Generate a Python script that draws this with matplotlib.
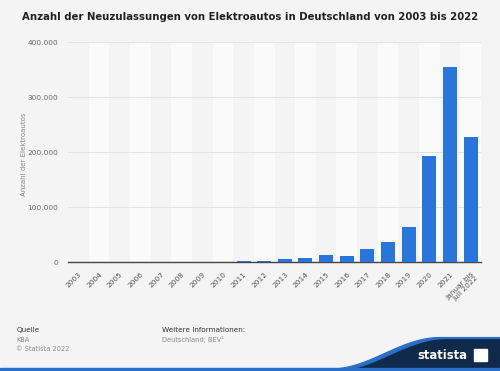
import matplotlib.pyplot as plt
import matplotlib.patches as patches
import matplotlib.ticker as mticker
import numpy as np

# Daten
jahre = ['2003', '2004', '2005', '2006', '2007', '2008', '2009', '2010', '2011', '2012',
         '2013', '2014', '2015', '2016', '2017', '2018', '2019', '2020', '2021',
         'Januar bis\nJuli 2022']
neuzulassungen = [61, 61, 47, 19, 8, 36, 162, 541, 2154, 2956,
                  6051, 8522, 12363, 11410, 25056, 36062, 63281, 194163, 355961, 227000]
y_ticks = [0, 100000, 200000, 300000, 400000]

bg = '#f4f4f4'
fig = plt.figure(figsize=(5, 3.71), dpi=100, facecolor=bg)
ax = fig.add_axes([0.136, 0.293, 0.826, 0.593], facecolor=bg)

x = np.arange(len(jahre))
# helle Streifen hinter jeder zweiten Kategorie
for i in x[1::2]:
    ax.axvspan(i - 0.5, i + 0.5, color='#fafafa', zorder=0, lw=0)

ax.bar(x, neuzulassungen, width=0.68, color='#2875dc', zorder=3)

ax.set_xlim(-0.5, len(jahre) - 0.5)
ax.set_ylim(0, 400000)
ax.set_yticks(y_ticks)
ax.yaxis.set_major_formatter(mticker.FuncFormatter(lambda v, p: f'{int(v):,}'.replace(',', '.')))
ax.grid(axis='y', color='#e2e2e2', lw=0.7, zorder=1)
ax.set_axisbelow(True)

ax.set_xticks(x)
ax.set_xticklabels(jahre, rotation=45, ha='right', rotation_mode='anchor',
                   fontsize=5.3, color='#555555', linespacing=1.0)
ax.tick_params(axis='y', length=0, labelsize=5.3, labelcolor='#666666', pad=7)
ax.tick_params(axis='x', length=0, pad=6)

for s in ['top', 'right', 'left']:
    ax.spines[s].set_visible(False)
ax.spines['bottom'].set_color('#444444')
ax.spines['bottom'].set_linewidth(1.0)

ax.set_ylabel('Anzahl der Elektroautos', fontsize=5.0, color='#888888')
ax.yaxis.set_label_coords(-0.1, 0.49)

fig.text(0.5, 0.955, 'Anzahl der Neuzulassungen von Elektroautos in Deutschland von 2003 bis 2022',
         ha='center', va='center', fontsize=7.3, fontweight='bold', color='#222222')

# Fußzeile
fig.text(0.033, 0.105, 'Quelle', fontsize=5.2, color='#333333')
fig.text(0.033, 0.079, 'KBA', fontsize=4.8, color='#888888')
fig.text(0.033, 0.055, '© Statista 2022', fontsize=4.8, color='#888888')
fig.text(0.324, 0.105, 'Weitere Informationen:', fontsize=5.2, color='#333333')
fig.text(0.324, 0.079, 'Deutschland; BEV¹', fontsize=4.8, color='#888888')

# Logo
t = np.linspace(0, 1, 60)
kx = 0.66 + 0.22 * t
ky = 0.005 + 0.085 * (1 - np.cos(np.pi * t)) / 2
top = list(zip(kx, ky)) + [(1.0, 0.09), (1.0, 0.0), (0.66, 0.0)]
fig.patches.append(patches.Polygon(top, closed=True, transform=fig.transFigure,
                                   color='#2a6fc9', zorder=5))
inner = list(zip(kx + 0.012, ky - 0.006)) + [(1.0, 0.084), (1.0, 0.0), (0.66, 0.0)]
fig.patches.append(patches.Polygon(inner, closed=True, transform=fig.transFigure,
                                   color='#0f2a4a', zorder=5))
fig.patches.append(patches.Rectangle((0, 0), 1, 0.007, transform=fig.transFigure,
                                     color='#2a6fc9', zorder=6))
fig.text(0.834, 0.043, 'statista', fontsize=8.4, fontweight='bold', color='white',
         ha='left', va='center', zorder=7)
fig.patches.append(patches.Rectangle((0.948, 0.028), 0.026, 0.03, transform=fig.transFigure,
                                     color='white', zorder=7))

fig.savefig('out.png', dpi=100, facecolor=bg)
